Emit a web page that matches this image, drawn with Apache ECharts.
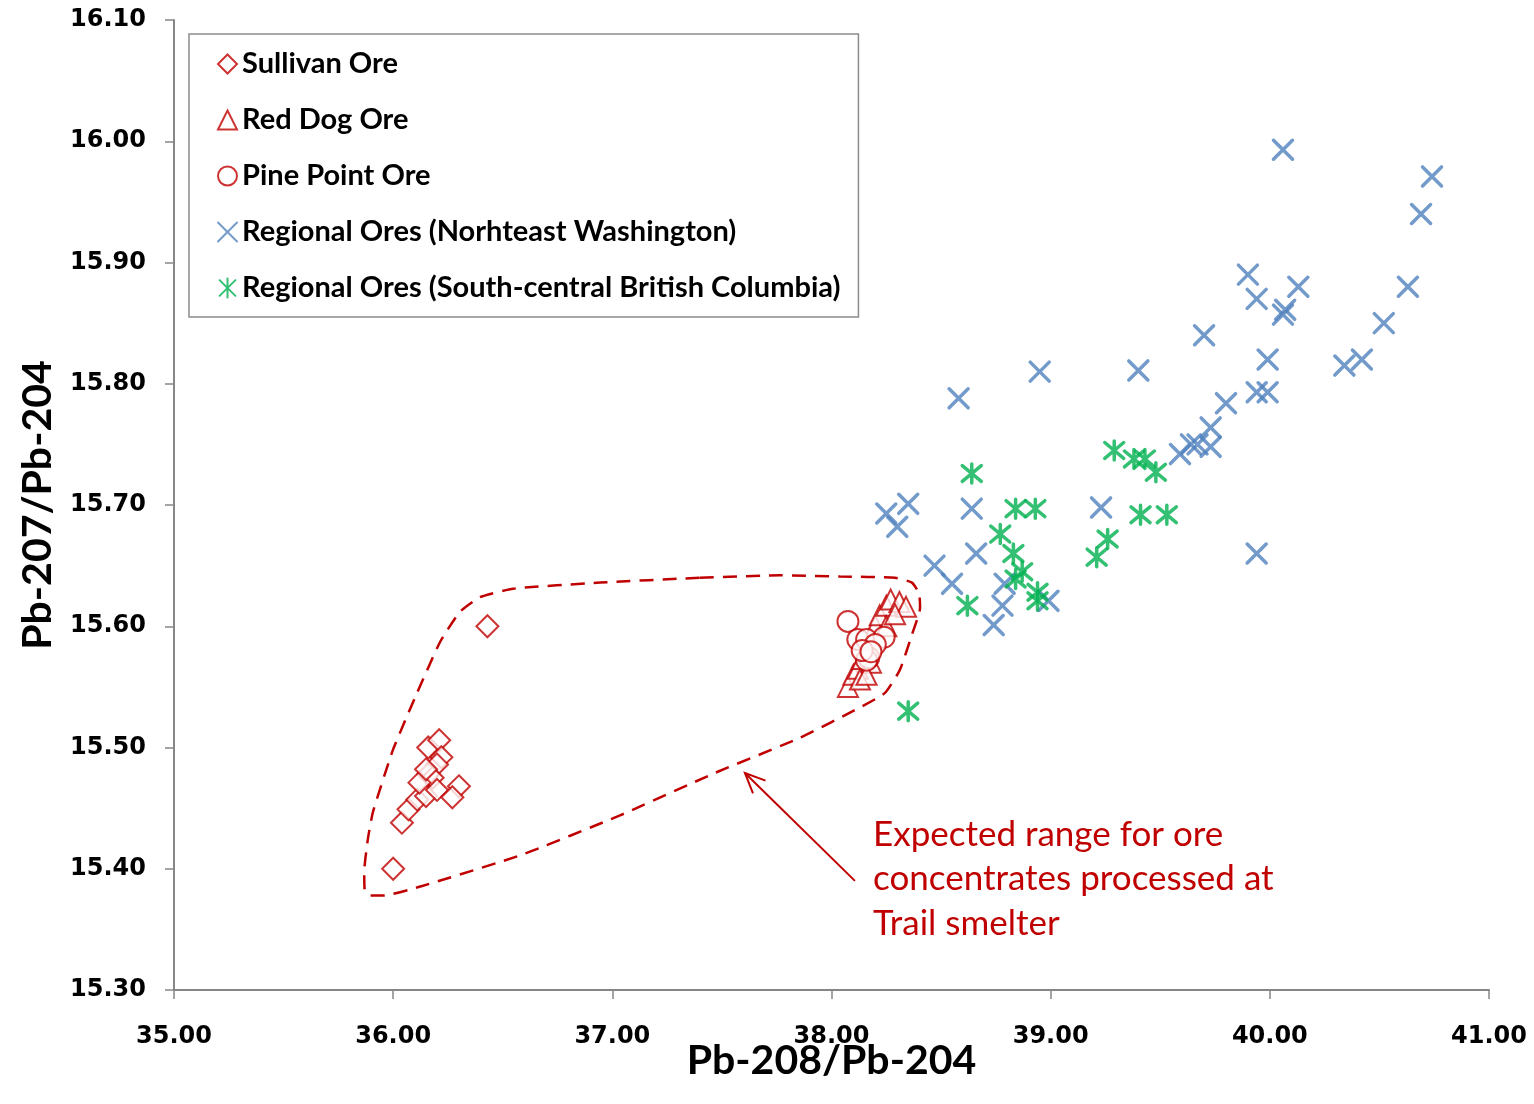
<!DOCTYPE html>
<html>
<head>
<meta charset="utf-8">
<title>Pb isotope ratios</title>
<script src="https://cdn.jsdelivr.net/npm/echarts@6/dist/echarts.min.js"></script>
<style>
  html, body { margin: 0; padding: 0; background: #fff; }
  #chart { width: 1534px; height: 1104px; }
</style>
</head>
<body>
<div id="chart"></div>
<script>
// Pb-208/Pb-204 (x) vs Pb-207/Pb-204 (y)
const sullivanOre = [
  [36.43, 15.600], [36.00, 15.400], [36.04, 15.438], [36.07, 15.449], [36.11, 15.457],
  [36.16, 15.500], [36.21, 15.506], [36.22, 15.492], [36.20, 15.486], [36.16, 15.478],
  [36.18, 15.475], [36.15, 15.460], [36.20, 15.465], [36.30, 15.468], [36.27, 15.459],
  [36.12, 15.471], [36.15, 15.482]
];
const redDogOre = [
  [38.075, 15.550], [38.10, 15.560], [38.12, 15.565], [38.14, 15.573], [38.18, 15.589],
  [38.20, 15.600], [38.22, 15.609], [38.25, 15.617], [38.27, 15.622], [38.31, 15.620],
  [38.34, 15.616], [38.25, 15.600], [38.18, 15.570], [38.13, 15.556], [38.29, 15.610],
  [38.16, 15.560]
];
const pinePointOre = [
  [38.075, 15.604], [38.12, 15.589], [38.16, 15.589], [38.24, 15.591], [38.20, 15.585],
  [38.17, 15.574], [38.16, 15.572], [38.14, 15.580], [38.18, 15.579]
];
const neWashington = [
  [40.06, 15.993], [40.74, 15.971], [40.69, 15.940], [39.90, 15.890], [39.94, 15.870],
  [40.13, 15.880], [40.07, 15.861], [40.06, 15.857], [40.63, 15.880], [40.52, 15.850],
  [39.70, 15.840], [39.99, 15.820], [40.34, 15.815], [40.42, 15.820], [39.94, 15.793],
  [39.99, 15.793], [39.80, 15.784], [39.73, 15.764], [39.59, 15.742], [39.64, 15.750],
  [39.67, 15.750], [39.73, 15.748], [39.94, 15.660], [39.23, 15.698], [39.40, 15.811],
  [38.95, 15.810], [38.58, 15.788], [38.25, 15.693], [38.35, 15.701], [38.30, 15.682],
  [38.64, 15.697], [38.66, 15.660], [38.47, 15.650], [38.55, 15.635], [38.79, 15.635],
  [38.78, 15.617], [38.74, 15.601], [38.99, 15.621]
];
const scBritishColumbia = [
  [38.64, 15.726], [38.84, 15.697], [38.93, 15.697], [38.77, 15.676], [38.83, 15.660],
  [38.87, 15.645], [38.84, 15.639], [38.94, 15.628], [38.94, 15.621], [38.62, 15.617],
  [39.26, 15.672], [39.21, 15.657], [39.29, 15.745], [39.38, 15.738], [39.43, 15.738],
  [39.48, 15.727], [39.41, 15.692], [39.53, 15.692], [38.35, 15.530]
];

// Outline of the expected Trail smelter range (closed loop, starts mid top edge)
const trailRange = [
  [37.400, 15.640], [37.765, 15.642], [38.039, 15.641], [38.290, 15.640], [38.367, 15.636],
  [38.400, 15.627], [38.404, 15.615], [38.367, 15.593], [38.312, 15.564], [38.244, 15.545],
  [38.130, 15.533], [37.856, 15.508], [37.468, 15.479], [37.035, 15.444], [36.579, 15.411],
  [36.136, 15.386], [35.960, 15.378], [35.895, 15.378], [35.870, 15.383], [35.868, 15.398],
  [35.885, 15.425], [35.908, 15.447], [35.999, 15.498], [36.109, 15.545], [36.214, 15.587],
  [36.305, 15.612], [36.396, 15.624], [36.547, 15.631], [36.944, 15.636], [37.400, 15.640]
];
// Arrow from the note to the outline: [tailX, tailY, headX, headY]
const rangeArrow = [[38.107, 15.390, 37.605, 15.479]];

const xTicks = { min: 35, max: 41, step: 1 };
const yTicks = { min: 15.3, max: 16.1, step: 0.1 };

const RED = '#c00000', BLUE = '#4f81bd', GREEN = '#00b050';
const TITLE_FONT = "Lato, 'Open Sans', sans-serif";
const X_PATH = 'path://M0,0L10,10M10,0L0,10';
const STAR_PATH = 'path://M0,0L10,10M10,0L0,10M5,-1L5,11';

const chart = echarts.init(document.getElementById('chart'), null, { renderer: 'canvas' });

const axisCommon = {
  type: 'value',
  axisLine: { show: true, onZero: false, lineStyle: { color: '#868686', width: 2 } },
  axisTick: { show: true, inside: false, length: 9, lineStyle: { color: '#868686', width: 1.5 } },
  splitLine: { show: false },
  axisLabel: {
    formatter: v => v.toFixed(2),
    fontFamily: 'DejaVu Sans', fontWeight: 'bold', fontSize: 24, color: '#000'
  },
  nameLocation: 'middle',
  nameMoveOverlap: false,
  nameTextStyle: { fontFamily: TITLE_FONT, fontWeight: 'bold', fontSize: 41, color: '#000' }
};

chart.setOption({
  animation: false,
  backgroundColor: '#fff',
  grid: { left: 174, right: 45, top: 20, bottom: 114, containLabel: false },
  xAxis: Object.assign({}, axisCommon, {
    min: xTicks.min, max: xTicks.max, interval: xTicks.step,
    name: 'Pb-208/Pb-204', nameGap: 50,
    axisLabel: Object.assign({}, axisCommon.axisLabel, { margin: 35 })
  }),
  yAxis: Object.assign({}, axisCommon, {
    min: yTicks.min, max: yTicks.max, interval: yTicks.step,
    name: 'Pb-207/Pb-204', nameGap: 116,
    axisLabel: Object.assign({}, axisCommon.axisLabel, { margin: 28 })
  }),
  legend: {
    orient: 'vertical',
    left: 189, top: 34,
    padding: [14, 18, 13, 28],
    itemGap: 24,
    itemWidth: 19, itemHeight: 19,
    backgroundColor: '#fff',
    borderColor: '#8c8c8c', borderWidth: 1.5,
    textStyle: { fontFamily: TITLE_FONT, fontWeight: 'bold', fontSize: 29, lineHeight: 32, color: '#000' },
    data: ['Sullivan Ore', 'Red Dog Ore', 'Pine Point Ore',
           'Regional Ores (Norhteast Washington)',
           'Regional Ores (South-central British Columbia)']
  },
  graphic: [{
    type: 'text',
    left: 873, top: 812,
    silent: true,
    style: {
      text: 'Expected range for ore\nconcentrates processed at\nTrail smelter',
      fill: RED, fontFamily: 'Lato', fontSize: 35, lineHeight: 44.5
    }
  }],
  series: [
    {
      name: 'Trail range', type: 'line', data: trailRange, silent: true,
      symbol: 'none', smooth: 0.15, z: 1,
      lineStyle: { color: RED, width: 2.5, type: [14, 9] }
    },
    {
      name: 'Range arrow', type: 'custom', data: rangeArrow, silent: true, z: 1,
      encode: { x: [0, 2], y: [1, 3] },
      renderItem(params, api) {
        const a = api.coord([api.value(0), api.value(1)]);
        const b = api.coord([api.value(2), api.value(3)]);
        const ang = Math.atan2(b[1] - a[1], b[0] - a[0]);
        const L = 22, spread = 0.42;
        const p1 = [b[0] - L * Math.cos(ang - spread), b[1] - L * Math.sin(ang - spread)];
        const p2 = [b[0] - L * Math.cos(ang + spread), b[1] - L * Math.sin(ang + spread)];
        return {
          type: 'group',
          children: [
            { type: 'line', shape: { x1: a[0], y1: a[1], x2: b[0], y2: b[1] },
              style: { stroke: RED, lineWidth: 2 } },
            { type: 'polyline', shape: { points: [p1, b, p2] },
              style: { stroke: RED, lineWidth: 2, fill: null } }
          ]
        };
      }
    },
    {
      name: 'Sullivan Ore', type: 'scatter', data: sullivanOre, z: 3,
      symbol: 'emptyDiamond', symbolSize: 22,
      itemStyle: { color: RED, borderColor: RED, borderWidth: 3 }
    },
    {
      name: 'Red Dog Ore', type: 'scatter', data: redDogOre, z: 3,
      symbol: 'emptyTriangle', symbolSize: 20,
      itemStyle: { color: RED, borderColor: RED, borderWidth: 3 }
    },
    {
      name: 'Pine Point Ore', type: 'scatter', data: pinePointOre, z: 3,
      symbol: 'emptyCircle', symbolSize: 21,
      itemStyle: { color: RED, borderColor: RED, borderWidth: 3 }
    },
    {
      name: 'Regional Ores (Norhteast Washington)', type: 'scatter', data: neWashington, z: 3,
      symbol: X_PATH, symbolSize: 19,
      itemStyle: { color: 'rgba(0,0,0,0)', borderColor: BLUE, borderWidth: 3.5, borderCap: 'round' }
    },
    {
      name: 'Regional Ores (South-central British Columbia)', type: 'scatter', data: scBritishColumbia, z: 3,
      symbol: STAR_PATH, symbolSize: 19,
      itemStyle: { color: 'rgba(0,0,0,0)', borderColor: GREEN, borderWidth: 3.5, borderCap: 'round' }
    }
  ]
});
</script>
</body>
</html>
